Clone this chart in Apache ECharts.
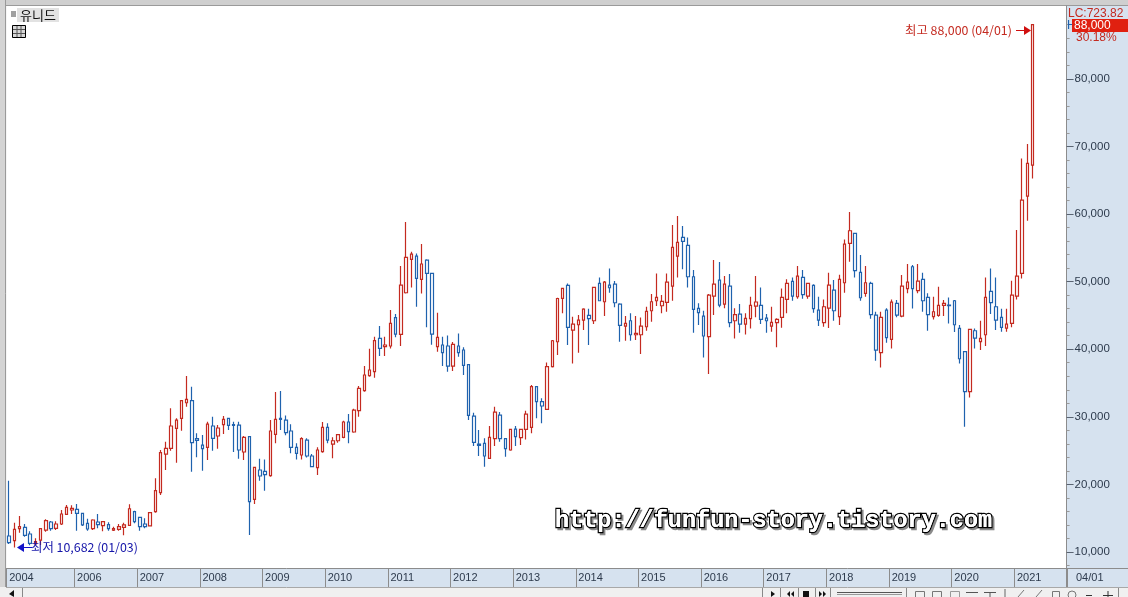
<!DOCTYPE html>
<html><head><meta charset="utf-8">
<style>html,body{margin:0;padding:0;background:#f0f0f0}#c{width:1128px;height:597px}</style>
<script src="https://cdn.jsdelivr.net/npm/echarts@6/dist/echarts.min.js"></script>
</head><body><div id="c"></div>
<script>
const opens=[12370,11680,13450,13650,12660,11190,11770,13250,14440,13500,
14140,15570,16210,16310,15720,14240,13450,14440,13900,14050,
13250,13350,13650,13950,15970,15130,14140,13850,15970,18770,
24490,25330,28290,29770,32080,32380,26760,25820,25480,28640,
27160,28830,29770,28830,28780,24790,27060,17790,22130,21930,
21290,27400,29770,29520,27900,25480,24350,26560,24200,22470,
24840,28440,25970,26460,26960,29230,27750,30900,33860,36080,
36670,41600,40370,40470,44660,42190,48350,53280,53780,50330,
53190,51210,40370,40620,40470,37510,40470,39880,37710,30110,
25970,26070,23850,26760,30260,26760,25090,28190,26910,28140,
28440,34450,32240,31100,37410,41100,47520,49440,42830,43620,
44310,45000,44210,49730,47020,49490,49630,46680,43420,44210,
42140,42140,43320,45690,47170,46430,46930,49340,53780,56540,
55360,50720,46040,44900,41850,47860,50230,46680,49340,44210,
45200,43720,44510,46380,46480,44600,43420,43920,44700,47370,
50030,47760,50620,47860,49440,45790,43920,46090,48750,44810,
49830,55650,57130,51360,48260,49730,45050,39480,45790,41450,
46780,44900,48950,52200,48650,50330,47660,44810,45000,46480,
46530,47170,43080,39630,33710,42730,41110,42140,48550,46280,
44710,43130,43820,47860,51220,62650,67240];
const closes=[11380,13350,13750,12470,11280,11530,13450,14640,13450,14140,
15620,16610,16460,15720,14000,13400,14730,14050,14490,13450,
13450,13750,14000,16400,14490,13750,13750,15820,19070,24690,
25330,28640,29520,32380,32580,26170,26520,25280,28930,26810,
28340,29620,28730,28730,25090,26960,17440,22520,21240,21440,
27900,29620,29620,27650,25480,24590,26760,24200,22620,25090,
28440,26560,26460,27350,29230,27800,31000,34210,36180,36920,
41260,40120,40620,43820,42240,49490,53580,54070,50470,52600,
51210,42240,41750,39480,37510,40710,39480,37610,30210,26220,
25780,24200,26960,30700,26760,25280,28140,27060,28140,30410,
34450,32240,31600,37410,41250,47500,48990,43230,43720,44310,
45940,44510,49140,47170,49930,49090,46870,43520,43820,42140,
42340,43420,45590,47020,47660,47070,49930,55060,55800,55950,
50720,45890,45400,41950,48010,49630,46530,49630,43920,45100,
43720,44560,46480,46980,44410,44210,43970,44410,47660,49730,
47860,50820,48060,49730,45990,44310,46280,49490,45690,50330,
55550,57520,51610,47610,49830,45100,39870,44710,41700,46970,
45050,49340,49930,48950,50080,47170,45100,45540,46480,46780,
46430,43620,38590,33710,42930,41650,41600,47660,46880,44310,
43230,43720,48010,50820,62060,67480,88000];
const lows=[11180,10682,12860,12270,10990,11190,11050,13010,13160,13250,
14000,15480,15620,13150,13850,13150,13250,13500,13060,13150,
13100,13150,12470,13850,14240,13150,13500,13850,15820,18430,
22130,24990,23210,27950,31500,21880,24000,22030,23610,24990,
25280,27450,28040,24790,23800,23610,12520,17100,20550,19070,
21140,26070,28040,27260,24590,23700,23700,23990,22620,21390,
24690,26070,23850,26170,26810,26070,27650,30020,33710,35930,
35780,38990,38990,40120,41750,40470,48250,49140,46280,48250,
43230,40660,39630,37510,36670,36770,38890,36180,29520,25680,
24200,22620,23800,25680,26320,24100,24990,25680,25820,26660,
27550,29770,29030,31000,37300,39130,45300,40610,37900,39480,
42830,40610,43720,47170,44900,48350,46190,41110,41250,41250,
41350,39280,42730,44070,46380,45300,45540,47170,50620,51810,
49140,42440,43570,38790,36330,45050,46190,46040,43230,41600,
42440,42190,43080,44710,43720,42440,42580,40270,43180,45300,
47170,47470,47470,47470,45400,43420,43330,43130,44210,43570,
48350,52940,50620,47170,47760,44510,38300,37310,40960,40120,
44710,44710,48260,46030,48260,45540,42730,44410,44810,44900,
43820,42540,37900,28540,32870,40120,39880,40470,45200,42830,
42590,42590,43230,47370,50470,59000,65260];
const highs=[20550,14340,15330,14140,13060,12020,13500,14830,14590,14540,
16210,16950,16900,17100,15820,14930,14830,15620,14490,14390,
13750,14140,14340,17050,16110,15130,14990,15820,20900,25090,
26320,31250,29770,32480,36030,34450,27550,27300,29280,30020,
28780,30110,29770,29280,29280,27160,27160,22520,23800,23700,
29520,33660,33810,30210,28880,26070,26960,26810,24490,25480,
29230,29030,26960,27450,29430,30410,31200,34550,37510,40080,
41850,43420,41850,45790,45200,52300,58800,54420,54170,55550,
53290,51210,45400,41850,42040,41060,42340,40270,37810,30610,
28040,26810,28640,31500,30700,26810,28140,28640,28240,30900,
34700,34550,32730,38050,41350,47610,49090,49730,44800,45050,
46040,45990,49140,50620,50080,51950,50080,46780,44900,45300,
44900,44700,46280,48160,51210,48010,51210,58360,59690,58210,
56540,51710,46780,45690,48160,53180,52890,50820,51110,46040,
46680,45300,47760,50820,49140,45200,46280,44560,48990,50330,
50620,52300,51710,49730,49590,47760,47370,51310,50230,51010,
56240,60285,57130,53930,52300,49980,45540,45540,46040,47370,
47270,50970,52590,52450,52590,51310,48260,47760,49240,47260,
47660,47270,43570,39630,42930,43080,44210,50620,51950,50620,
45990,45990,50130,57620,68220,70340,88000];
const majorTicks=[10000,20000,30000,40000,50000,60000,70000,80000];
const minorTicks=[8000,12000,14000,16000,18000,22000,24000,26000,28000,32000,34000,36000,38000,42000,44000,46000,48000,52000,54000,56000,58000,62000,64000,66000,68000,72000,74000,76000,78000,82000,84000,86000,88000];

const months=[];
{let y=2004,m=12;for(let i=0;i<203;i++){months.push(y+'/'+String(m).padStart(2,'0'));m++;if(m>12){m=1;y++;}}}
const candles=opens.map((o,i)=>[o,closes[i],lows[i],highs[i]]);
while(candles.length<months.length)candles.push(['-','-','-','-']);
const showTick=(i,v)=>i===0||(v.endsWith('/01')&&v>='2006');

const RED='#c42a20',BLUE='#1f62ae',BAND='#d6e2ef',EDGE='#8c8c8c';
const KR='"Noto Sans CJK KR","Liberation Sans",sans-serif';
const rect=(x,y,w,h,fill,stroke)=>({type:'rect',silent:true,shape:{x,y,width:w,height:h},style:{fill:fill||'none',stroke:stroke||'none',lineWidth:1}});
const line=(x1,y1,x2,y2,c)=>({type:'line',silent:true,shape:{x1,y1,x2,y2},style:{stroke:c,lineWidth:1}});
const text=(x,y,t,c,size,extra)=>({type:'text',silent:true,x,y,style:Object.assign({text:t,fill:c,font:size+'px '+KR,textVerticalAlign:'middle'},extra||{})});
const tri=(pts,c)=>({type:'polygon',silent:true,shape:{points:pts},style:{fill:c}});
const mono='bold 23.5px "Liberation Mono",monospace';
const wm='http://funfun-story.tistory.com';

const back=[
 rect(0,0,1128,6,'#cfcfcf'),line(0,5.5,1128,5.5,'#9a9a9a'),
 rect(0,0,6,597,'#d4d4d4'),line(5.5,0,5.5,587,'#9a9a9a'),
 rect(1067,6,61,581,BAND),rect(6,568,1122,19,BAND),
 line(6,568.5,1128,568.5,EDGE),line(1067.5,568,1067.5,587,EDGE),
 rect(0,587,1128,10,'#f0f0f0'),line(6,587.5,1128,587.5,'#a8a8a8')
];
const front=[
 rect(11,11,5,6,'#a0a0a0'),rect(17,8,42,14,'#e2e2e2'),
 text(20,15,'유니드','#111',13,{font:'13px '+KR}),
 rect(12.5,25.5,13,12,'#d8d8d8','#000'),line(17,26,17,37,'#555'),line(21,26,21,37,'#555'),line(13,29.5,25,29.5,'#555'),line(13,33.5,25,33.5,'#555'),
 text(905,30,'최고 88,000 (04/01)',RED,12.4),
 line(1016,30.5,1026,30.5,'#d01010'),tri([[1024,26],[1031,30.5],[1024,35]],'#d01010'),
 text(31,547,'최저 10,682 (01/03)','#1414a8',12.4),
 line(24,547.5,32,547.5,'#1414c8'),tri([[17,547.5],[24,543],[24,552]],'#1414c8'),
 text(1068,14,'LC:723.82',RED,12,{font:'12px "Liberation Sans",sans-serif'}),
 text(1067,26,'H',BLUE,12,{font:'12px "Liberation Sans",sans-serif'}),
 rect(1072,19,56,13,'#e02010'),
 text(1074,25.5,'88,000','#fff',12,{font:'12px "Liberation Sans",sans-serif'}),
 text(1076,37.5,'30.18%',RED,12,{font:'12px "Liberation Sans",sans-serif'}),
 text(1076,577.5,'04/01','#2d3a4c',11,{font:'11px "Liberation Sans",sans-serif'}),
 {type:'text',silent:true,x:557,y:523,style:{text:wm,font:mono,fill:'#8a8a8a',stroke:'#8a8a8a',lineWidth:2.4,textVerticalAlign:'middle'}},
 {type:'text',silent:true,x:555,y:521,style:{text:wm,font:mono,fill:'#fff',stroke:'#000',lineWidth:2.6,textVerticalAlign:'middle'}},
 {type:'text',silent:true,x:555,y:521,style:{text:wm,font:mono,fill:'#fff',textVerticalAlign:'middle'}},
 line(22.5,588,22.5,597,'#888'),tri([[9,594],[14,590],[14,597]],'#111'),
 line(762.5,588,762.5,597,'#888'),line(780.5,588,780.5,597,'#888'),line(798.5,588,798.5,597,'#888'),line(815.5,588,815.5,597,'#888'),line(830.5,588,830.5,597,'#888'),
 tri([[771,591],[775,594],[771,597]],'#111'),tri([[787,594],[790,591],[790,597]],'#111'),tri([[791,594],[794,591],[794,597]],'#111'),
 rect(803,591,6,6,'#111'),tri([[819,591],[822,594],[819,597]],'#111'),tri([[823,591],[826,594],[823,597]],'#111'),
 line(837,592.5,902,592.5,'#555'),line(837,594.5,902,594.5,'#999'),line(906.5,588,906.5,597,'#888'),
 rect(915.5,591.5,9,8,'none','#777'),rect(932.5,591.5,9,8,'none','#777'),rect(950.5,591.5,9,8,'none','#999'),
 line(966,592.5,978,592.5,'#555'),line(984,592.5,996,592.5,'#555'),line(990,592,990,597,'#555'),
 line(1005,589,1005,597,'#666'),line(1018,597,1024,590,'#777'),line(1036,597,1042,590,'#777'),rect(1052.5,591.5,7,7,'none','#777'),
 {type:'circle',silent:true,shape:{cx:1072,cy:595,r:4},style:{fill:'none',stroke:'#777'}},
 line(1086,595.5,1092,595.5,'#333'),line(1103,595.5,1113,595.5,'#333'),line(1108,591,1108,597,'#333'),line(1118.5,588,1118.5,597,'#888')
];

const chart=echarts.init(document.getElementById('c'),null,{renderer:'canvas'});
chart.setOption({
 animation:false,backgroundColor:'#f0f0f0',
 graphic:{elements:back.map(e=>Object.assign(e,{z:-10,zlevel:0})).concat(front.map(e=>Object.assign(e,{z:100})))},
 grid:{left:6.6,top:6,width:1060,height:562,show:true,backgroundColor:'#fff',borderWidth:0,containLabel:false,z:0},
 xAxis:{type:'category',data:months,boundaryGap:true,
  axisLine:{show:false},
  axisTick:{show:true,length:19,interval:showTick,alignWithLabel:false,lineStyle:{color:EDGE,width:1}},
  axisLabel:{interval:showTick,formatter:v=>v.slice(0,4),align:'left',margin:4,color:'#2d3a4c',fontSize:11,fontFamily:'"Liberation Sans",sans-serif',verticalAlign:'top',lineHeight:12,showMinLabel:true,hideOverlap:false},
  splitLine:{show:false}},
 yAxis:[
  {type:'value',position:'right',min:7633,max:90769,splitLine:{show:false},
   axisLine:{show:true,onZero:false,lineStyle:{color:EDGE}},
   axisTick:{show:true,length:3,customValues:minorTicks,lineStyle:{color:'#9a9a9a'}},
   axisLabel:{show:false}},
  {type:'value',position:'right',min:7633,max:90769,splitLine:{show:false},
   axisLine:{show:false},
   axisTick:{show:true,length:7,customValues:majorTicks,lineStyle:{color:'#5a6472'}},
   axisLabel:{show:true,customValues:majorTicks,margin:8,color:'#2d3a4c',fontSize:11.5,fontFamily:'"Liberation Sans",sans-serif',align:'left',verticalAlign:'middle',padding:[3,0,0,0],
    formatter:v=>Number(v).toLocaleString('en-US')}}
 ],
 series:[{type:'candlestick',data:candles,barWidth:3,clip:true,
  itemStyle:{color:'#fff',color0:'#fff',borderColor:RED,borderColor0:BLUE,borderWidth:1.2}}]
});
</script></body></html>
